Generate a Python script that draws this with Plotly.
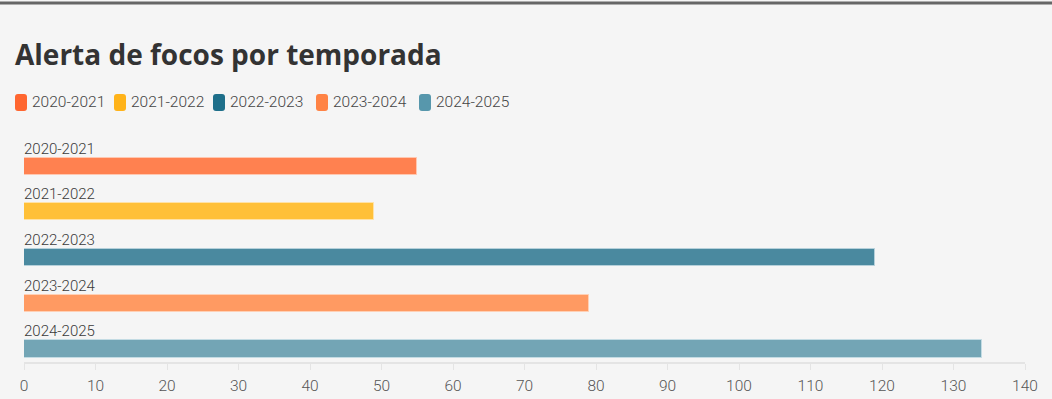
import plotly.graph_objects as go

seasons = ["2020-2021", "2021-2022", "2022-2023", "2023-2024", "2024-2025"]
values = [55, 49, 119, 79, 134]
legend_colors = ["#ff6630", "#ffb31a", "#1e6f8a", "#ff8345", "#5797ac"]
bar_colors = ["#ff8150", "#ffc038", "#4a899f", "#ff9a62", "#73a5b5"]
bar_edges = ["#ffc7b0", "#ffe2a6", "#b5d0da", "#ffd0b5", "#c3dbe3"]
x_ticks = list(range(0, 141, 10))

W, H = 1052, 399
L, R, T, B = 24, 27, 130, 37
pw, ph = W - L - R, H - T - B
FONT = "Roboto"

fig = go.Figure()
fig.add_trace(go.Bar(
    x=values, y=list(range(len(seasons))), orientation="h",
    marker=dict(color=bar_colors, line=dict(color=bar_edges, width=1)),
    width=0.373, showlegend=False, hoverinfo="x+text", text=seasons,
    textposition="none",
))

annotations = []
for i, s in enumerate(seasons):
    annotations.append(dict(
        x=0, y=i - 0.1865, xref="x", yref="y", text=s, showarrow=False,
        xanchor="left", yanchor="bottom", yshift=-2, xshift=-2,
        font=dict(family=FONT, size=15, color="#3a3a3a", weight=300),
    ))

def px_to_paper_x(px):
    return (px - L) / pw
def px_to_paper_y(py):
    return (H - B - py) / ph

annotations.append(dict(
    x=px_to_paper_x(13), y=px_to_paper_y(54), xref="paper", yref="paper",
    text="<b>Alerta de focos por temporada</b>",
    showarrow=False, xanchor="left", yanchor="middle",
    font=dict(family="Open Sans", size=28, color="#333333"),
))

shapes = []
shapes.append(dict(type="rect", xref="paper", yref="paper",
                   x0=px_to_paper_x(0), x1=px_to_paper_x(W),
                   y0=px_to_paper_y(4.5), y1=px_to_paper_y(1.5),
                   line=dict(width=0), fillcolor="#666666"))

def rounded_rect(x0, y0, x1, y1, r):
    X = lambda v: px_to_paper_x(v)
    Y = lambda v: px_to_paper_y(v)
    return (f"M {X(x0+r)} {Y(y0)} L {X(x1-r)} {Y(y0)} Q {X(x1)} {Y(y0)} {X(x1)} {Y(y0+r)} "
            f"L {X(x1)} {Y(y1-r)} Q {X(x1)} {Y(y1)} {X(x1-r)} {Y(y1)} "
            f"L {X(x0+r)} {Y(y1)} Q {X(x0)} {Y(y1)} {X(x0)} {Y(y1-r)} "
            f"L {X(x0)} {Y(y0+r)} Q {X(x0)} {Y(y0)} {X(x0+r)} {Y(y0)} Z")

legend_x = [15, 114, 213, 316, 419]
for i, s in enumerate(seasons):
    x0 = legend_x[i]
    shapes.append(dict(type="path", xref="paper", yref="paper",
                       path=rounded_rect(x0, 94, x0 + 12, 111, 3),
                       line=dict(width=0), fillcolor=legend_colors[i]))
    annotations.append(dict(
        x=px_to_paper_x(x0 + 15), y=px_to_paper_y(102.5), xref="paper", yref="paper",
        text=s, showarrow=False, xanchor="left", yanchor="middle",
        font=dict(family=FONT, size=15.5, color="#444444", weight=300),
    ))

fig.update_layout(
    width=W, height=H,
    margin=dict(l=L, r=R, t=T, b=B),
    paper_bgcolor="#f5f5f5", plot_bgcolor="#f5f5f5",
    showlegend=False,
    xaxis=dict(range=[0, 140], tickvals=x_ticks, showgrid=False, zeroline=False,
               showline=True, linecolor="#e4e4e4", linewidth=2,
               ticks="outside", ticklen=6, tickcolor="#e4e4e4", tickwidth=1,
               ticklabelstandoff=2, automargin=False,
               tickfont=dict(family=FONT, size=15.5, color="#555555", weight=300),
               fixedrange=True),
    yaxis=dict(range=[4.285, -0.789], showticklabels=False, showgrid=False,
               zeroline=False, showline=False, fixedrange=True, automargin=False),
    annotations=annotations, shapes=shapes,
    bargap=0,
)
fig.write_html("out.html", config={"displayModeBar": False},
               post_script="document.body.style.margin='0';document.body.style.background='#f5f5f5';")
